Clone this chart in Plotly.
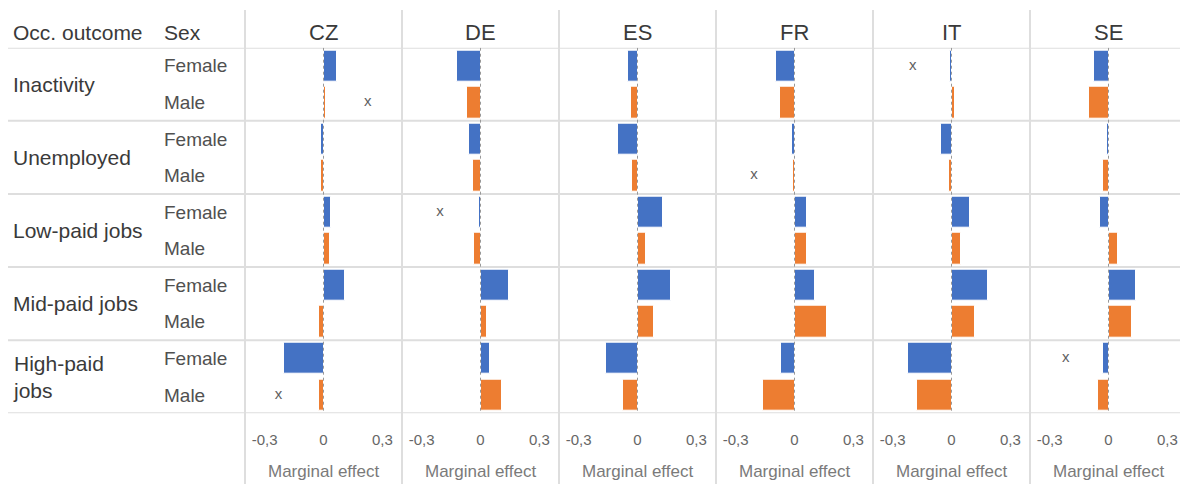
import plotly.graph_objects as go

countries = ["CZ", "DE", "ES", "FR", "IT", "SE"]
outcomes = ["Inactivity", "Unemployed", "Low-paid jobs", "Mid-paid jobs", "High-paid<br>jobs"]
sexes = ["Female", "Male"]

# values per country, order: outcome x (Female, Male)
female = {
    "CZ": [0.069, -0.013, 0.040, 0.111, -0.199],
    "DE": [-0.122, -0.057, -0.008, 0.143, 0.047],
    "ES": [-0.047, -0.098, 0.130, 0.169, -0.160],
    "FR": [-0.093, -0.015, 0.064, 0.103, -0.068],
    "IT": [-0.008, -0.052, 0.096, 0.186, -0.224],
    "SE": [-0.073, -0.010, -0.041, 0.140, -0.027],
}
male = {
    "CZ": [0.015, -0.013, 0.034, -0.022, -0.022],
    "DE": [-0.071, -0.039, -0.032, 0.035, 0.111],
    "ES": [-0.032, -0.027, 0.041, 0.086, -0.073],
    "FR": [-0.074, -0.010, 0.064, 0.167, -0.162],
    "IT": [0.020, -0.014, 0.046, 0.122, -0.174],
    "SE": [-0.098, -0.027, 0.046, 0.122, -0.054],
}
# "x" markers: (country, outcome index, sex, value)
x_marks = [
    ("CZ", 0, "Male", 0.225),
    ("CZ", 4, "Male", -0.229),
    ("DE", 2, "Female", -0.206),
    ("FR", 1, "Male", -0.206),
    ("IT", 0, "Female", -0.197),
    ("SE", 4, "Female", -0.218),
]
tick_vals = [-0.3, 0, 0.3]
tick_text = ["-0,3", "0", "0,3"]

W, H = 1180, 484
BLUE = "#4472C4"
ORANGE = "#ED7D31"
GRID = "#dedede"
FONT = "Liberation Sans, Arial, sans-serif"

panel_left0 = 245.0
panel_w = 157.0
px_per_unit = panel_w / 0.8
y_top_px, y_bot_px = 47.7, 413.3

fig = go.Figure()

def yidx(o, s):
    return o * 2 + (0 if s == "Female" else 1)

for i, c in enumerate(countries):
    ax = "x" if i == 0 else f"x{i+1}"
    ys_f = [yidx(o, "Female") for o in range(len(outcomes))]
    ys_m = [yidx(o, "Male") for o in range(len(outcomes))]
    fig.add_trace(go.Bar(x=female[c], y=ys_f, orientation="h", xaxis=ax, yaxis="y",
                         marker=dict(color=BLUE, line=dict(color="white", width=1)),
                         width=0.86, showlegend=False))
    fig.add_trace(go.Bar(x=male[c], y=ys_m, orientation="h", xaxis=ax, yaxis="y",
                         marker=dict(color=ORANGE, line=dict(color="white", width=1)),
                         width=0.86, showlegend=False))
    mx = [v for (cc, o, s, v) in x_marks if cc == c]
    my = [yidx(o, s) for (cc, o, s, v) in x_marks if cc == c]
    fig.add_trace(go.Scatter(x=mx, y=my, mode="text", text=["x"] * len(mx),
                             textfont=dict(family=FONT, size=15, color="#5f5f5f"),
                             textposition="middle center", xaxis=ax, yaxis="y",
                             showlegend=False))
    left = panel_left0 + i * panel_w
    right = min(left + panel_w, W)
    rng_hi = 0.4 if right < W else -0.4 + (right - left) / px_per_unit
    key = "xaxis" if i == 0 else f"xaxis{i+1}"
    fig.layout[key] = dict(domain=[left / W, right / W], range=[-0.4, rng_hi],
                           anchor="y", tickvals=tick_vals, ticktext=tick_text,
                           showgrid=False, zeroline=False, showline=False,
                           ticks="", ticklabelstandoff=16,
                           tickfont=dict(family=FONT, size=15, color="#666666"),
                           fixedrange=True)
    # zero line
    fig.add_shape(type="line", xref=ax, yref="y", x0=0, x1=0, y0=-0.5, y1=9.5,
                  line=dict(color="#999999", width=1, dash="dot"), layer="above")
    # header
    fig.add_annotation(text=c, xref="paper", yref="paper",
                       x=(left + panel_w / 2) / W, y=1 - 32 / H, showarrow=False,
                       xanchor="center", yanchor="middle",
                       font=dict(family=FONT, size=22, color="#3a3a3a"))
    fig.add_annotation(text="Marginal effect", xref="paper", yref="paper",
                       x=(left + panel_w / 2) / W, y=1 - 471 / H, showarrow=False,
                       xanchor="center", yanchor="middle",
                       font=dict(family=FONT, size=17, color="#7a7a7a"))
    # vertical separators
    fig.add_shape(type="line", xref="paper", yref="paper", x0=left / W, x1=left / W,
                  y0=0, y1=1 - 10 / H, line=dict(color=GRID, width=2), layer="below")

fig.layout["yaxis"] = dict(domain=[1 - y_bot_px / H, 1 - y_top_px / H],
                           range=[9.5, -0.5], showticklabels=False, showgrid=False,
                           zeroline=False, showline=False, ticks="", fixedrange=True)

# horizontal separators
for k in range(len(outcomes) + 1):
    yv = -0.5 + 2 * k
    fig.add_shape(type="line", xref="paper", yref="y", x0=8 / W, x1=1, y0=yv, y1=yv,
                  line=dict(color=GRID, width=2), layer="below")

# left column labels
fig.add_annotation(text="Occ. outcome", xref="paper", yref="paper", x=11 / W, y=1 - 32 / H,
                   showarrow=False, xanchor="left", yanchor="middle",
                   font=dict(family=FONT, size=21, color="#3a3a3a"))
fig.add_annotation(text="Sex", xref="paper", yref="paper", x=162 / W, y=1 - 32 / H,
                   showarrow=False, xanchor="left", yanchor="middle",
                   font=dict(family=FONT, size=21, color="#3a3a3a"))
for o, name in enumerate(outcomes):
    fig.add_annotation(text=name, xref="paper", yref="y", x=11 / W, y=2 * o + 0.5,
                       showarrow=False, xanchor="left", yanchor="middle", align="left",
                       font=dict(family=FONT, size=21, color="#3a3a3a"))
    for s in sexes:
        fig.add_annotation(text=s, xref="paper", yref="y", x=162 / W, y=yidx(o, s),
                           showarrow=False, xanchor="left", yanchor="middle",
                           font=dict(family=FONT, size=19, color="#505050"))

fig.update_layout(width=W, height=H, margin=dict(l=0, r=0, t=0, b=0),
                  plot_bgcolor="white", paper_bgcolor="white", barmode="overlay",
                  bargap=0, hovermode=False)

fig.write_html("out.html", config={"displayModeBar": False},
               post_script="document.body.style.margin='0';document.body.style.overflow='hidden';")
